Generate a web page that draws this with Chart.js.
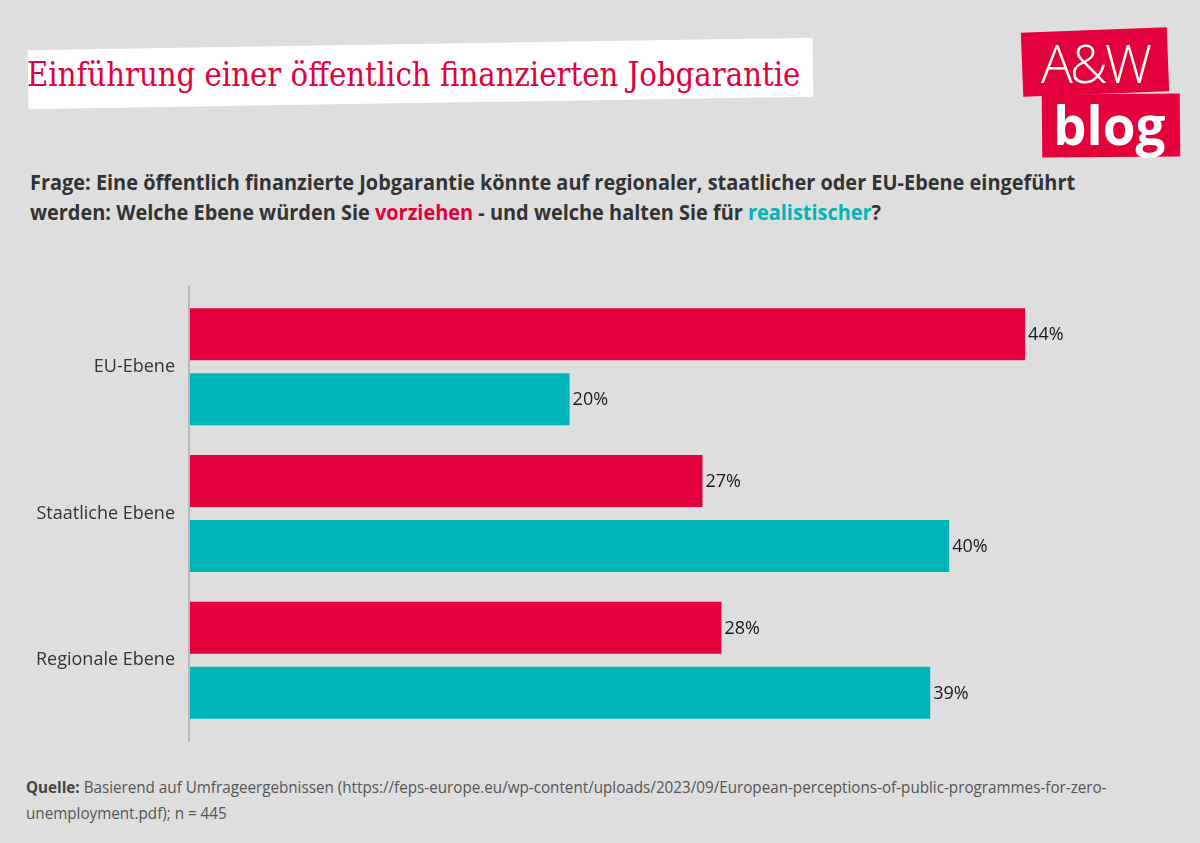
<!DOCTYPE html>
<html>
<head>
<meta charset="utf-8">
<script src="https://cdn.jsdelivr.net/npm/chart.js@4"></script>
<style>
  body { margin: 0; background: #dedede; width: 1200px; height: 843px; overflow: hidden; position: relative; font-family: "Open Sans", sans-serif; }
  #titleBox { position: absolute; left: 28px; top: 44px; width: 785px; height: 59px; background: #fff; transform: rotate(-0.9deg); }
  .fit { position: absolute; white-space: nowrap; transform-origin: left center; display: inline-block; }
  #title { left: 27px; top: 55px; font-family: "DejaVu Serif", serif; font-size: 33px; line-height: 40px; color: #e4003a; }
  .logo1 { position: absolute; left: 1022px; top: 30px; width: 146px; height: 64px; background: #e4003a; transform: rotate(-2.2deg); }
  .logo2 { position: absolute; left: 1042px; top: 94px; width: 138px; height: 63px; background: #e4003a; transform: rotate(-0.5deg); }
  .logoTxt1 { position: absolute; left: 1041px; top: 26px; font-family: "Open Sans", sans-serif; font-weight: 300; font-size: 53px; color: #fff; letter-spacing: -3px; }
  .logoTxt2 { position: absolute; left: 1053px; top: 88px; font-family: "Open Sans", sans-serif; font-weight: bold; font-size: 53px; color: #fff; }
  .q { font-family: "Open Sans", sans-serif; font-weight: bold; font-size: 21.5px; line-height: 30px; color: #333; left: 30px; }
  .q .r { color: #e4003a; }
  .q .t { color: #00b5b8; }
  .src { font-family: "Open Sans", sans-serif; font-size: 16.5px; line-height: 26px; color: #555; left: 26px; }
  .src b { color: #444; }
  #wrap { position: absolute; left: 0; top: 270px; width: 1200px; height: 490px; }
</style>
</head>
<body>
<div id="titleBox"></div>
<div id="title" class="fit">Einführung einer öffentlich finanzierten Jobgarantie</div>
<div class="logo1"></div>
<div class="logo2"></div>
<div class="logoTxt1">A&amp;W</div>
<div class="logoTxt2">blog</div>
<div id="q1" class="fit q" style="top:167px">Frage: Eine öffentlich finanzierte Jobgarantie könnte auf regionaler, staatlicher oder EU-Ebene eingeführt</div>
<div id="q2" class="fit q" style="top:197px">werden: Welche Ebene würden Sie <span class="r">vorziehen</span> - und welche halten Sie für <span class="t">realistischer</span>?</div>
<div id="s1" class="fit src" style="top:774px"><b>Quelle:</b> Basierend auf Umfrageergebnissen (https://feps-europe.eu/wp-content/uploads/2023/09/European-perceptions-of-public-programmes-for-zero-</div>
<div id="s2" class="fit src" style="top:800px">unemployment.pdf); n = 445</div>
<div id="wrap"><canvas id="chart" width="1200" height="490"></canvas></div>
<script>
// Daten
const categories = ['EU-Ebene', 'Staatliche Ebene', 'Regionale Ebene'];
const vorziehen = [44, 27, 28];
const realistischer = [20, 40, 39];

// Schrift horizontal auf Zielbreite bringen
function fit(id, width, others) {
    const el = document.getElementById(id);
    const k = width / el.scrollWidth;
    el.style.transform = 'scaleX(' + k + ')';
    (others || []).forEach(function (o) {
        document.getElementById(o).style.transform = 'scaleX(' + k + ')';
    });
}
fit('title', 773);
fit('q1', 1045, ['q2']);
fit('s1', 1081, ['s2']);

// Prozentwerte am Balkenende
const valueLabels = {
    id: 'valueLabels',
    afterDatasetsDraw(chart) {
        const ctx = chart.ctx;
        ctx.save();
        ctx.font = '18px "Open Sans"';
        ctx.fillStyle = '#1a1a1a';
        ctx.textBaseline = 'middle';
        chart.data.datasets.forEach(function (ds, i) {
            chart.getDatasetMeta(i).data.forEach(function (bar, j) {
                ctx.fillText(ds.data[j] + '%', bar.x + 3, bar.y + 1);
            });
        });
        ctx.restore();
    }
};

// senkrechte Achsenlinie
const axisLine = {
    id: 'axisLine',
    afterDraw(chart) {
        const ctx = chart.ctx;
        const x = chart.chartArea.left;
        ctx.save();
        ctx.strokeStyle = '#b8b8b8';
        ctx.lineWidth = 2;
        ctx.beginPath();
        ctx.moveTo(x - 1, chart.chartArea.top - 8);
        ctx.lineTo(x - 1, chart.chartArea.bottom + 8);
        ctx.stroke();
        ctx.restore();
    }
};

new Chart(document.getElementById('chart').getContext('2d'), {
    type: 'bar',
    data: {
        labels: categories,
        datasets: [{
            label: 'vorziehen',
            data: vorziehen,
            backgroundColor: '#e4003a'
        }, {
            label: 'realistischer',
            data: realistischer,
            backgroundColor: '#00b5b8'
        }]
    },
    options: {
        indexAxis: 'y',
        responsive: false,
        animation: false,
        categoryPercentage: 0.886,
        barPercentage: 0.8,
        layout: { padding: { top: 23.5, bottom: 26.5, left: 0, right: 61 } },
        scales: {
            x: { display: false, min: 0, max: 50 },
            y: {
                grid: { display: false },
                border: { display: false },
                afterFit(scale) { scale.width = 190; },
                ticks: {
                    color: '#333',
                    padding: 7,
                    font: { family: 'Open Sans', size: 18 }
                }
            }
        },
        plugins: {
            legend: { display: false },
            tooltip: { enabled: false }
        }
    },
    plugins: [valueLabels, axisLine]
});
</script>
</body>
</html>
